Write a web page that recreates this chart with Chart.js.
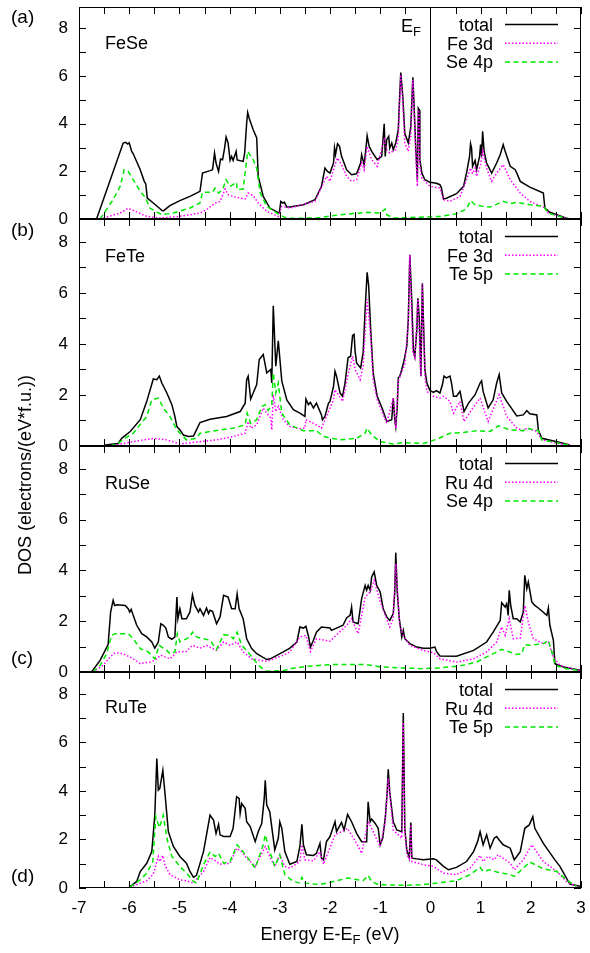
<!DOCTYPE html>
<html><head><meta charset="utf-8">
<script src="https://cdn.jsdelivr.net/npm/chart.js@4.4.1/dist/chart.umd.min.js"></script>
<style>
html,body{margin:0;padding:0;background:#fff;width:590px;height:953px;overflow:hidden;font-family:"Liberation Sans",Arial,sans-serif;color:#000}
.wrap{position:absolute;left:0;width:590px}
.wrap canvas{display:block}
.t{position:absolute;white-space:nowrap;font-size:18px;line-height:18px}
.t sub{font-size:13px;line-height:0;vertical-align:-4px}
.let{font-size:19px;line-height:19px}
</style></head><body>
<div class="wrap" id="w0"><canvas id="c0"></canvas></div>
<div class="wrap" id="w1"><canvas id="c1"></canvas></div>
<div class="wrap" id="w2"><canvas id="c2"></canvas></div>
<div class="wrap" id="w3"><canvas id="c3"></canvas></div>

<div class="t let" style="left:11px;top:7px">(a)</div>
<div class="t let" style="left:11px;top:220px">(b)</div>
<div class="t let" style="left:11px;top:648px">(c)</div>
<div class="t let" style="left:11px;top:866px">(d)</div>

<div class="t" id="n0" style="left:105px;top:34px"></div>
<div class="t" id="n1" style="left:105px;top:247px"></div>
<div class="t" id="n2" style="left:105px;top:474px"></div>
<div class="t" id="n3" style="left:105px;top:698px"></div>

<div class="t" style="left:401px;top:17px">E<sub>F</sub></div>
<div class="t" style="left:0;width:660px;text-align:center;top:925px">Energy E-E<sub>F</sub> (eV)</div>
<div class="t" style="left:-125px;width:300px;text-align:center;top:466px;transform:rotate(-90deg);transform-origin:150px 9px">DOS (electrons/(eV*f.u.))</div>

<script>
// ---------- data ----------
const energyTicks = [-7,-6,-5,-4,-3,-2,-1,0,1,2,3];
const dosTicks = [0,2,4,6,8];
const compounds = ['FeSe','FeTe','RuSe','RuTe'];
const feseLabels = ['total','Fe 3d','Se 4p'];
const feteLabels = ['total','Fe 3d','Te 5p'];
const ruseLabels = ['total','Ru 4d','Se 4p'];
const ruteLabels = ['total','Ru 4d','Te 5p'];

const feseTotal = [[-6.65,0],[-6.12,3.19],[-6.07,3.22],[-6.03,3.15],[-6.0,3.2],[-5.95,2.84],[-5.92,2.74],[-5.78,2.07],[-5.7,1.58],[-5.67,1.47],[-5.64,0.88],[-5.52,0.67],[-5.35,0.36],[-5.32,0.34],[-5.19,0.56],[-4.99,0.77],[-4.79,0.95],[-4.59,1.16],[-4.54,1.93],[-4.39,2.03],[-4.34,2.07],[-4.3,2.77],[-4.27,2.35],[-4.22,2.0],[-4.18,2.52],[-4.14,2.49],[-4.1,2.98],[-4.07,3.44],[-4.03,3.19],[-3.99,2.46],[-3.96,2.63],[-3.93,2.46],[-3.87,2.84],[-3.85,2.48],[-3.73,2.42],[-3.7,2.77],[-3.66,4.03],[-3.64,4.47],[-3.61,4.23],[-3.53,3.75],[-3.46,3.4],[-3.43,1.79],[-3.33,0.95],[-3.2,0.46],[-3.01,0.25],[-2.98,0.74],[-2.94,0.67],[-2.91,0.71],[-2.86,0.5],[-2.8,0.5],[-2.53,0.6],[-2.3,0.81],[-2.17,1.37],[-2.1,2.14],[-2.05,2.0],[-2.0,1.93],[-1.93,2.35],[-1.91,2.98],[-1.89,2.7],[-1.85,3.16],[-1.81,3.05],[-1.77,2.63],[-1.67,2.07],[-1.57,1.86],[-1.47,1.9],[-1.39,2.35],[-1.37,2.7],[-1.32,2.28],[-1.28,3.05],[-1.26,3.49],[-1.22,3.05],[-1.17,2.84],[-1.06,2.49],[-0.97,2.63],[-0.92,4.0],[-0.9,2.63],[-0.87,3.33],[-0.83,3.47],[-0.81,2.98],[-0.77,3.19],[-0.74,2.91],[-0.69,3.19],[-0.64,3.75],[-0.61,5.28],[-0.59,6.15],[-0.55,5.14],[-0.51,3.6],[-0.44,3.19],[-0.39,3.89],[-0.35,5.95],[-0.33,5.0],[-0.29,2.91],[-0.26,1.65],[-0.24,4.65],[-0.22,4.58],[-0.21,2.49],[-0.17,1.93],[-0.11,1.65],[-0.01,1.54],[0.12,1.5],[0.19,1.44],[0.22,1.3],[0.26,0.84],[0.32,0.87],[0.52,1.06],[0.66,1.37],[0.72,1.93],[0.78,2.63],[0.8,3.16],[0.82,2.98],[0.84,2.21],[0.89,2.46],[0.92,2.07],[0.98,2.63],[1.0,3.12],[1.02,2.63],[1.04,3.68],[1.07,2.84],[1.12,2.35],[1.22,1.93],[1.32,2.35],[1.39,2.7],[1.45,3.12],[1.49,2.84],[1.59,2.21],[1.69,2.07],[1.72,1.93],[1.79,1.58],[1.98,1.34],[2.25,1.09],[2.28,0.46],[2.38,0.28],[2.71,0.03],[2.78,0]];
const feseFe3d = [[-6.58,0],[-6.18,0.25],[-6.02,0.45],[-5.92,0.36],[-5.65,0.11],[-5.38,0.04],[-4.99,0.11],[-4.59,0.25],[-4.46,0.39],[-4.29,0.67],[-4.19,0.74],[-4.09,1.26],[-4.03,1.02],[-3.93,0.95],[-3.79,0.88],[-3.69,0.84],[-3.63,1.09],[-3.53,0.98],[-3.43,0.67],[-3.26,0.32],[-3.03,0.11],[-2.96,0.53],[-2.8,0.46],[-2.3,0.74],[-2.13,1.51],[-2.07,1.79],[-2.0,1.58],[-1.9,2.28],[-1.85,2.56],[-1.77,2.28],[-1.67,1.79],[-1.57,1.58],[-1.47,1.65],[-1.37,2.35],[-1.32,2.07],[-1.26,3.05],[-1.17,2.49],[-1.06,2.21],[-0.92,3.33],[-0.87,2.91],[-0.81,2.77],[-0.69,2.91],[-0.64,3.4],[-0.59,6.05],[-0.55,4.9],[-0.51,3.19],[-0.44,2.84],[-0.39,3.5],[-0.35,5.84],[-0.33,4.8],[-0.29,2.63],[-0.26,1.37],[-0.24,4.58],[-0.22,4.4],[-0.21,2.21],[-0.17,1.72],[-0.01,1.37],[0.19,1.3],[0.26,0.81],[0.39,0.74],[0.59,0.95],[0.72,1.65],[0.8,2.14],[0.84,1.9],[0.89,2.14],[0.92,1.79],[1.0,2.28],[1.04,2.84],[1.12,2.14],[1.22,1.58],[1.32,1.93],[1.45,2.28],[1.59,1.65],[1.79,1.09],[1.98,0.74],[2.25,0.5],[2.35,0.25],[2.71,0.03],[2.78,0]];
const feseSe4p = [[-6.58,0],[-6.32,0.81],[-6.18,1.37],[-6.1,2.07],[-6.02,2.0],[-5.92,1.65],[-5.78,1.16],[-5.67,0.88],[-5.59,0.46],[-5.35,0.18],[-5.12,0.25],[-4.79,0.46],[-4.59,0.67],[-4.54,1.12],[-4.34,1.12],[-4.29,1.3],[-4.22,1.09],[-4.14,1.23],[-4.07,1.65],[-3.99,1.37],[-3.86,1.54],[-3.85,1.23],[-3.73,1.26],[-3.64,2.84],[-3.53,2.49],[-3.46,2.14],[-3.39,1.09],[-3.26,0.53],[-3.01,0.18],[-2.86,0.03],[-2.27,0.04],[-1.8,0.18],[-1.27,0.28],[-1.0,0.25],[-0.9,0.42],[-0.87,0.18],[-0.74,0.04],[-0.14,0.08],[0.19,0.11],[0.52,0.22],[0.72,0.42],[0.8,0.77],[0.89,0.6],[1.05,0.53],[1.19,0.5],[1.45,0.74],[1.59,0.64],[1.72,0.7],[1.98,0.6],[2.25,0.53],[2.35,0.25],[2.52,0.14],[2.71,0.03],[2.78,0]];

const feteTotal = [[-6.48,0.04],[-6.22,0.1],[-6.15,0.3],[-5.98,0.57],[-5.78,1.03],[-5.65,1.75],[-5.52,2.63],[-5.45,2.6],[-5.4,2.74],[-5.35,2.47],[-5.25,2.08],[-5.15,1.62],[-5.09,1.16],[-5.05,0.76],[-4.99,0.63],[-4.92,0.43],[-4.82,0.37],[-4.72,0.39],[-4.66,0.63],[-4.59,0.92],[-4.39,1.05],[-4.06,1.16],[-3.79,1.35],[-3.69,1.68],[-3.66,2.6],[-3.63,2.74],[-3.58,1.84],[-3.53,2.08],[-3.46,2.41],[-3.41,3.39],[-3.33,3.59],[-3.26,2.87],[-3.18,3.0],[-3.16,2.47],[-3.13,5.5],[-3.08,3.13],[-3.03,4.12],[-2.96,2.54],[-2.86,1.81],[-2.73,1.42],[-2.6,1.29],[-2.5,1.16],[-2.48,1.84],[-2.43,1.62],[-2.39,1.71],[-2.33,1.49],[-2.27,1.68],[-2.17,1.22],[-2.15,1.03],[-2.1,1.16],[-2.03,1.68],[-2.0,1.75],[-1.93,2.34],[-1.9,2.93],[-1.87,2.74],[-1.8,2.08],[-1.75,1.95],[-1.7,2.47],[-1.64,3.46],[-1.59,3.52],[-1.55,4.34],[-1.52,4.38],[-1.5,3.72],[-1.47,3.26],[-1.39,3.06],[-1.34,3.66],[-1.3,5.36],[-1.26,6.81],[-1.23,6.29],[-1.19,4.58],[-1.14,2.87],[-1.06,1.95],[-0.95,1.42],[-0.87,0.96],[-0.77,1.03],[-0.74,1.88],[-0.71,1.03],[-0.69,0.76],[-0.66,1.55],[-0.64,2.67],[-0.61,2.74],[-0.57,3.0],[-0.52,3.39],[-0.47,3.92],[-0.44,4.97],[-0.41,7.5],[-0.37,5.63],[-0.34,3.79],[-0.31,3.52],[-0.27,4.58],[-0.25,5.79],[-0.22,4.97],[-0.19,2.74],[-0.16,6.38],[-0.14,4.97],[-0.11,3.0],[-0.07,2.47],[-0.01,2.18],[0.06,2.1],[0.12,2.17],[0.19,2.08],[0.24,2.41],[0.27,2.74],[0.32,2.67],[0.39,2.74],[0.42,2.47],[0.46,1.95],[0.52,1.95],[0.59,2.14],[0.67,1.35],[0.76,1.68],[0.89,2.01],[0.99,2.47],[1.02,2.56],[1.05,2.14],[1.15,1.49],[1.25,1.81],[1.32,2.47],[1.37,2.8],[1.42,2.08],[1.52,1.75],[1.72,1.18],[1.85,1.22],[1.92,1.39],[1.98,1.26],[2.12,1.22],[2.15,0.63],[2.22,0.3],[2.52,0.17],[2.78,0.04]];
const feteFe3d = [[-6.38,0],[-5.92,0.17],[-5.52,0.3],[-5.25,0.24],[-4.99,0.08],[-4.59,0.17],[-4.26,0.24],[-3.93,0.37],[-3.69,0.5],[-3.63,0.96],[-3.58,0.7],[-3.46,0.83],[-3.33,1.49],[-3.26,1.29],[-3.18,1.09],[-3.16,0.63],[-3.13,2.01],[-3.08,1.35],[-3.03,1.55],[-2.93,1.03],[-2.8,0.76],[-2.6,0.68],[-2.5,0.7],[-2.48,1.03],[-2.4,0.96],[-2.27,0.83],[-2.17,0.7],[-1.93,1.81],[-1.9,2.21],[-1.75,1.75],[-1.64,2.8],[-1.55,3.52],[-1.5,3.0],[-1.4,2.6],[-1.34,3.13],[-1.26,5.76],[-1.19,4.31],[-1.14,2.6],[-1.06,1.81],[-0.87,0.89],[-0.74,1.88],[-0.69,0.7],[-0.64,2.54],[-0.51,3.2],[-0.44,4.84],[-0.41,7.5],[-0.35,3.66],[-0.31,3.46],[-0.25,5.76],[-0.19,2.74],[-0.16,6.35],[-0.11,2.74],[-0.07,2.14],[0.06,1.95],[0.19,1.88],[0.26,1.95],[0.39,1.75],[0.46,1.29],[0.59,1.75],[0.67,0.96],[0.82,1.42],[0.99,1.88],[1.15,0.96],[1.37,2.01],[1.52,1.16],[1.72,0.7],[1.85,0.6],[1.92,0.7],[2.12,0.57],[2.22,0.24],[2.52,0.1],[2.78,0.03]];
const feteTe5p = [[-6.38,0],[-6.22,0.1],[-6.12,0.26],[-5.92,0.5],[-5.65,1.16],[-5.55,1.81],[-5.42,1.88],[-5.32,1.49],[-5.19,1.16],[-5.05,0.63],[-4.86,0.24],[-4.66,0.3],[-4.59,0.5],[-4.32,0.59],[-3.93,0.7],[-3.69,0.83],[-3.65,1.29],[-3.58,0.89],[-3.46,1.03],[-3.36,1.55],[-3.29,1.62],[-3.23,1.39],[-3.16,1.62],[-3.13,2.87],[-3.08,2.08],[-3.03,2.47],[-2.96,1.29],[-2.8,0.83],[-2.6,0.66],[-2.53,0.6],[-2.27,0.6],[-2.13,0.37],[-1.8,0.24],[-1.47,0.3],[-1.3,0.5],[-1.26,0.7],[-1.17,0.43],[-1.0,0.17],[-0.74,0.08],[-0.54,0.13],[-0.14,0.1],[0.12,0.26],[0.39,0.5],[0.66,0.53],[0.92,0.6],[1.19,0.57],[1.35,0.79],[1.59,0.63],[1.85,0.6],[1.92,0.7],[2.15,0.6],[2.22,0.24],[2.52,0.13],[2.78,0.03]];

const ruseTotal = [[-6.75,0],[-6.58,0.46],[-6.42,1.08],[-6.37,2.36],[-6.32,2.82],[-6.29,2.62],[-6.24,2.65],[-6.08,2.62],[-6.02,2.49],[-5.99,2.36],[-5.96,2.47],[-5.92,2.23],[-5.85,1.84],[-5.75,1.51],[-5.65,1.38],[-5.55,1.18],[-5.49,0.94],[-5.42,1.18],[-5.37,1.9],[-5.32,1.84],[-5.27,1.73],[-5.22,1.38],[-5.15,1.29],[-5.09,1.38],[-5.05,2.95],[-5.03,2.1],[-4.99,2.49],[-4.95,2.1],[-4.86,2.1],[-4.79,2.36],[-4.74,3.04],[-4.69,2.62],[-4.62,2.36],[-4.59,2.49],[-4.52,2.23],[-4.46,2.52],[-4.42,2.3],[-4.39,2.43],[-4.34,2.39],[-4.26,1.9],[-4.19,2.17],[-4.12,3.02],[-4.03,2.95],[-3.96,2.49],[-3.89,2.49],[-3.85,3.08],[-3.81,2.49],[-3.73,2.1],[-3.66,1.31],[-3.56,0.92],[-3.46,0.72],[-3.26,0.49],[-3.19,0.52],[-2.93,0.79],[-2.8,0.94],[-2.66,1.18],[-2.6,1.77],[-2.53,1.73],[-2.48,1.8],[-2.43,1.42],[-2.39,0.98],[-2.33,1.25],[-2.27,1.57],[-2.17,1.77],[-2.0,1.73],[-1.97,1.64],[-1.74,1.84],[-1.67,2.13],[-1.6,2.23],[-1.57,2.56],[-1.54,1.97],[-1.44,1.9],[-1.37,2.89],[-1.3,3.41],[-1.27,3.22],[-1.24,3.41],[-1.2,3.22],[-1.17,3.74],[-1.12,3.94],[-1.07,3.41],[-1.0,3.15],[-0.94,2.49],[-0.87,2.17],[-0.81,2.03],[-0.74,2.3],[-0.71,3.15],[-0.69,4.7],[-0.66,3.15],[-0.62,2.1],[-0.57,1.38],[-0.54,1.64],[-0.51,1.31],[-0.41,1.12],[-0.27,0.98],[-0.14,0.94],[-0.01,0.94],[0.09,0.98],[0.12,0.81],[0.19,0.63],[0.52,0.62],[0.86,0.85],[1.12,1.18],[1.25,1.57],[1.39,2.03],[1.42,2.73],[1.49,2.56],[1.52,2.69],[1.55,2.23],[1.57,3.22],[1.6,2.62],[1.65,2.1],[1.72,2.1],[1.79,1.97],[1.85,2.36],[1.88,3.81],[1.92,3.28],[1.95,3.54],[2.02,2.76],[2.08,2.62],[2.15,2.52],[2.32,2.23],[2.35,2.52],[2.38,1.84],[2.45,1.25],[2.48,0.33],[2.65,0.2],[2.98,0.07]];
const ruseRu4d = [[-6.72,0],[-6.52,0.26],[-6.38,0.59],[-6.28,0.76],[-6.12,0.72],[-5.92,0.52],[-5.78,0.33],[-5.59,0.39],[-5.49,0.46],[-5.37,0.66],[-5.19,0.52],[-5.05,0.79],[-4.86,0.81],[-4.74,1.05],[-4.59,0.94],[-4.46,1.05],[-4.26,0.85],[-4.12,1.18],[-3.99,1.05],[-3.85,1.18],[-3.73,0.79],[-3.56,0.52],[-3.26,0.42],[-2.93,0.66],[-2.8,0.79],[-2.6,1.38],[-2.48,1.44],[-2.39,0.81],[-2.27,1.31],[-2.0,1.21],[-1.67,1.84],[-1.57,2.1],[-1.44,1.51],[-1.3,2.95],[-1.2,3.15],[-1.12,3.61],[-1.0,2.76],[-0.81,1.77],[-0.74,2.1],[-0.69,4.27],[-0.61,1.84],[-0.54,1.44],[-0.41,1.05],[-0.14,0.85],[0.06,0.76],[0.19,0.52],[0.52,0.39],[0.86,0.52],[1.12,0.79],[1.32,1.18],[1.42,1.77],[1.49,1.44],[1.57,2.1],[1.65,1.31],[1.79,1.34],[1.88,2.62],[1.95,1.97],[2.05,1.31],[2.25,1.12],[2.35,1.18],[2.45,0.59],[2.58,0.26],[2.98,0.05]];
const ruseSe4p = [[-6.72,0],[-6.58,0.26],[-6.45,0.72],[-6.35,1.44],[-6.28,1.51],[-6.02,1.51],[-5.92,1.31],[-5.78,0.92],[-5.62,0.79],[-5.49,0.52],[-5.4,1.05],[-5.25,0.85],[-5.19,0.72],[-5.09,0.79],[-5.04,1.51],[-4.99,1.18],[-4.79,1.38],[-4.74,1.57],[-4.66,1.38],[-4.52,1.31],[-4.39,1.25],[-4.26,0.89],[-4.12,1.47],[-3.99,1.44],[-3.93,1.31],[-3.85,1.57],[-3.76,1.05],[-3.66,0.85],[-3.53,0.52],[-3.39,0.2],[-3.26,0.03],[-2.93,0.05],[-2.8,0.13],[-2.47,0.22],[-2.0,0.29],[-1.57,0.3],[-1.27,0.29],[-1.0,0.2],[-0.54,0.16],[-0.14,0.13],[0.19,0.16],[0.59,0.24],[0.92,0.39],[1.19,0.66],[1.42,0.89],[1.55,0.81],[1.72,0.69],[1.82,0.72],[1.88,1.08],[1.98,1.05],[2.25,1.12],[2.35,1.25],[2.45,0.59],[2.48,0.26],[2.71,0.13],[2.98,0.05]];

const ruteTotal = [[-6.0,0.03],[-5.85,0.27],[-5.78,0.68],[-5.65,1.02],[-5.55,1.5],[-5.49,3.0],[-5.45,5.33],[-5.42,4.03],[-5.39,4.1],[-5.33,4.85],[-5.29,3.96],[-5.22,2.32],[-5.12,1.71],[-4.99,1.3],[-4.86,1.02],[-4.79,0.68],[-4.72,0.44],[-4.66,0.52],[-4.52,1.5],[-4.46,2.19],[-4.39,3.0],[-4.32,2.8],[-4.27,2.25],[-4.22,2.62],[-4.19,2.19],[-4.12,2.12],[-3.99,2.12],[-3.93,2.46],[-3.86,3.76],[-3.81,3.69],[-3.79,3.07],[-3.76,3.48],[-3.69,3.28],[-3.66,2.73],[-3.59,2.53],[-3.49,1.91],[-3.43,2.32],[-3.36,2.66],[-3.31,3.69],[-3.29,4.44],[-3.26,3.42],[-3.2,3.14],[-3.1,1.57],[-3.03,2.05],[-3.0,2.73],[-2.96,2.46],[-2.9,1.5],[-2.8,0.98],[-2.66,1.09],[-2.6,1.71],[-2.56,2.62],[-2.53,1.78],[-2.47,1.37],[-2.33,1.34],[-2.27,1.43],[-2.2,1.84],[-2.17,1.23],[-2.13,1.16],[-2.07,1.91],[-2.0,2.12],[-1.9,2.73],[-1.87,2.32],[-1.77,2.7],[-1.72,2.39],[-1.65,3.03],[-1.57,2.73],[-1.47,2.25],[-1.37,1.91],[-1.27,1.91],[-1.24,3.55],[-1.2,2.73],[-1.17,2.84],[-1.1,2.66],[-1.04,2.46],[-1.0,1.78],[-0.95,2.05],[-0.9,2.87],[-0.86,3.96],[-0.84,4.89],[-0.81,3.96],[-0.74,2.73],[-0.67,2.39],[-0.57,2.32],[-0.54,7.21],[-0.51,2.46],[-0.47,1.57],[-0.42,1.23],[-0.39,2.7],[-0.37,1.23],[-0.27,1.2],[-0.14,1.16],[0.06,1.2],[0.12,1.16],[0.26,0.89],[0.36,0.75],[0.52,0.85],[0.72,1.09],[0.86,1.5],[0.94,1.91],[0.99,2.32],[1.02,2.05],[1.05,1.78],[1.12,2.19],[1.19,1.64],[1.27,2.05],[1.32,2.12],[1.37,1.98],[1.45,1.78],[1.59,1.64],[1.67,1.16],[1.79,1.5],[1.88,2.46],[1.97,2.6],[2.04,2.94],[2.08,2.46],[2.25,1.84],[2.48,1.16],[2.58,0.89],[2.71,0.41],[2.78,0.16],[2.98,0.07]];
const ruteRu4d = [[-5.99,0.03],[-5.78,0.2],[-5.65,0.3],[-5.52,0.57],[-5.42,1.3],[-5.39,1.09],[-5.33,1.34],[-5.29,0.96],[-5.19,0.55],[-4.99,0.34],[-4.86,0.3],[-4.72,0.2],[-4.52,0.68],[-4.39,1.26],[-4.26,1.09],[-4.19,0.98],[-3.99,1.02],[-3.86,1.64],[-3.76,1.5],[-3.66,1.23],[-3.49,0.89],[-3.29,1.71],[-3.2,1.3],[-3.1,0.89],[-3.0,1.37],[-2.9,0.89],[-2.8,0.82],[-2.6,1.09],[-2.56,1.78],[-2.5,1.16],[-2.33,1.12],[-2.2,1.5],[-2.13,0.98],[-1.9,2.19],[-1.77,2.32],[-1.65,2.46],[-1.47,1.84],[-1.37,1.43],[-1.24,2.73],[-1.14,2.32],[-1.0,1.71],[-0.9,2.73],[-0.84,4.51],[-0.74,2.39],[-0.57,2.05],[-0.54,6.83],[-0.51,2.32],[-0.47,1.37],[-0.42,1.2],[-0.39,2.6],[-0.37,1.09],[-0.14,0.96],[0.06,0.89],[0.26,0.61],[0.52,0.55],[0.79,0.82],[0.99,1.34],[1.05,1.09],[1.15,1.3],[1.27,1.16],[1.35,1.37],[1.59,1.02],[1.67,0.75],[1.85,1.16],[2.02,1.78],[2.25,1.09],[2.52,0.68],[2.71,0.27],[2.91,0.07]];
const ruteTe5p = [[-5.99,0.03],[-5.78,0.34],[-5.65,0.61],[-5.53,1.09],[-5.47,2.94],[-5.4,2.49],[-5.32,3.0],[-5.25,2.05],[-5.15,1.3],[-4.99,0.89],[-4.86,0.61],[-4.72,0.27],[-4.66,0.2],[-4.52,0.96],[-4.39,1.48],[-4.29,1.3],[-4.22,1.43],[-4.12,1.02],[-3.99,1.09],[-3.85,1.78],[-3.76,1.57],[-3.66,1.3],[-3.49,0.82],[-3.33,1.78],[-3.29,2.19],[-3.2,1.5],[-3.1,0.89],[-3.0,1.37],[-2.9,0.55],[-2.73,0.27],[-2.6,0.2],[-2.56,0.44],[-2.5,0.2],[-2.2,0.14],[-2.07,0.2],[-1.64,0.41],[-1.34,0.3],[-1.24,0.52],[-1.17,0.27],[-1.04,0.14],[-0.54,0.11],[-0.14,0.14],[0.12,0.2],[0.52,0.3],[0.79,0.55],[0.99,0.85],[1.05,0.68],[1.19,0.75],[1.32,0.66],[1.59,0.55],[1.67,0.48],[1.85,0.82],[1.98,1.07],[2.25,0.79],[2.52,0.68],[2.71,0.34],[2.91,0.07]];

// ---------- presentation ----------
const FONT = '"Liberation Sans", Arial, sans-serif';
const panels = [
  {labels: feseLabels, series: [feseTotal, feseFe3d, feseSe4p]},
  {labels: feteLabels, series: [feteTotal, feteFe3d, feteTe5p]},
  {labels: ruseLabels, series: [ruseTotal, ruseRu4d, ruseSe4p]},
  {labels: ruteLabels, series: [ruteTotal, ruteRu4d, ruteTe5p]}
];
const frames = [{top:7,bottom:219},{top:219,bottom:446},{top:446,bottom:672},{top:672,bottom:888}];
const lineStyles = [
  {color:'#000000', width:1.5, dash:[]},
  {color:'#ff00ff', width:1.5, dash:[1.5,2]},
  {color:'#00e800', width:1.5, dash:[5,3.5]}
];

const framePlugin = {
  id: 'frame',
  afterDatasetsDraw(chart) {
    const ctx = chart.ctx, a = chart.chartArea, xs = chart.scales.x, ys = chart.scales.y;
    ctx.save();
    ctx.strokeStyle = '#000'; ctx.lineWidth = 1; ctx.setLineDash([]);
    ctx.beginPath();
    const x0 = Math.round(xs.getPixelForValue(0)) + 0.5;
    ctx.moveTo(x0, a.top); ctx.lineTo(x0, a.bottom);
    for (let k = 0; k <= 20; k++) {
      const px = Math.round(xs.getPixelForValue(-7 + k * 0.5)) + 0.5;
      ctx.moveTo(px, a.bottom); ctx.lineTo(px, a.bottom - 7);
      ctx.moveTo(px, a.top); ctx.lineTo(px, a.top + 7);
    }
    for (let v = 0; v <= 8; v++) {
      const py = Math.round(ys.getPixelForValue(v)) + 0.5;
      ctx.moveTo(a.left, py); ctx.lineTo(a.left + 7, py);
      ctx.moveTo(a.right, py); ctx.lineTo(a.right - 7, py);
    }
    ctx.stroke();
    ctx.strokeRect(a.left + 0.5, a.top + 0.5, a.right - a.left - 1, a.bottom - a.top - 1);
    ctx.font = '18px ' + FONT;
    ctx.textAlign = 'right'; ctx.textBaseline = 'alphabetic'; ctx.fillStyle = '#000';
    chart.data.datasets.forEach((ds, i) => {
      const ly = a.top + 17.5 + i * 18.7;
      ctx.fillText(ds.label, 493, ly + 6.5);
      ctx.beginPath();
      ctx.strokeStyle = ds.borderColor; ctx.lineWidth = ds.borderWidth; ctx.setLineDash(ds.borderDash || []);
      ctx.moveTo(505, ly); ctx.lineTo(558, ly); ctx.stroke();
    });
    ctx.restore();
  }
};

function pts(arr) { return arr.map(p => ({x: p[0], y: p[1]})); }

panels.forEach((p, i) => {
  document.getElementById('n' + i).textContent = compounds[i];
  const f = frames[i], isBottom = i === 3;
  const topPx = f.top - 12;
  const h = isBottom ? 953 - topPx : (f.bottom - f.top) + 24;
  const wrap = document.getElementById('w' + i);
  wrap.style.top = topPx + 'px'; wrap.style.height = h + 'px';
  const cv = document.getElementById('c' + i);
  cv.width = 590; cv.height = h; cv.style.width = '590px'; cv.style.height = h + 'px';
  new Chart(cv, {
    type: 'line',
    data: {
      datasets: p.series.map((s, j) => ({
        label: p.labels[j], data: pts(s),
        borderColor: lineStyles[j].color, borderWidth: lineStyles[j].width, borderDash: lineStyles[j].dash,
        pointRadius: 0, tension: 0, fill: false, order: 3 - j
      }))
    },
    options: {
      responsive: false, animation: false, devicePixelRatio: 1, events: [],
      layout: {padding: {top: 12, bottom: isBottom ? 0 : 12, left: 0, right: 9}},
      plugins: {legend: {display: false}, tooltip: {enabled: false}},
      scales: {
        x: {type: 'linear', min: -7, max: 3, display: isBottom,
            grid: {display: false, drawTicks: false}, border: {display: false},
            ticks: {font: {family: FONT, size: 17}, color: '#000', padding: 10, maxRotation: 0, autoSkip: false},
            afterBuildTicks: s => { s.ticks = energyTicks.map(v => ({value: v})); },
            afterFit: s => { s.height = isBottom ? 65 : 0; s.paddingLeft = 0; s.paddingRight = 0; s.paddingTop = 0; s.paddingBottom = 0; }},
        y: {type: 'linear', min: 0, max: 8.9,
            grid: {display: false, drawTicks: false}, border: {display: false},
            ticks: {font: {family: FONT, size: 17}, color: '#000', padding: 11},
            afterBuildTicks: s => { s.ticks = dosTicks.map(v => ({value: v})); },
            afterFit: s => { s.width = 79; s.paddingTop = 0; s.paddingBottom = 0; s.paddingLeft = 0; s.paddingRight = 0; }}
      }
    },
    plugins: [framePlugin]
  });
});
</script>
</body></html>
